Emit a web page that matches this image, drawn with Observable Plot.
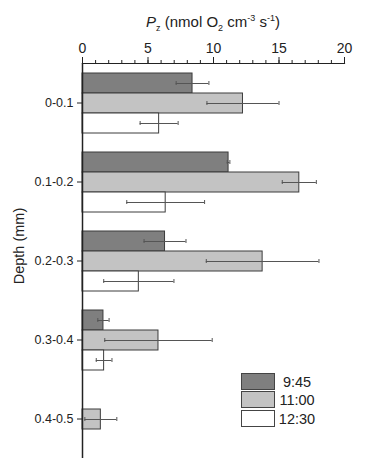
<!DOCTYPE html>
<html>
<head>
<meta charset="utf-8">
<script src="https://cdn.jsdelivr.net/npm/d3@7"></script>
<script src="https://cdn.jsdelivr.net/npm/@observablehq/plot@0.6"></script>
<style>
  body { margin: 0; background: #fff; font-family: "Liberation Sans", Arial, sans-serif; color: #222; }
  #wrap { position: relative; width: 366px; height: 465px; overflow: hidden; }
  #title { position: relative; height: 32px; }
  #title span { position: absolute; left: 213px; top: 9px; transform: translateX(-50%); font-size: 15px; line-height: 18px; white-space: nowrap; }
  #title sub, #title sup { font-size: 9px; }
  #ylabel { position: absolute; left: 19px; top: 246px; transform: translate(-50%, -50%) rotate(-90deg); font-size: 14.5px; white-space: nowrap; }
  .leg { position: absolute; left: 241px; width: 32px; height: 15px; border: 1px solid #444; }
  .legt { position: absolute; left: 297px; transform: translate(-50%, -50%); font-size: 14.5px; white-space: nowrap; }
</style>
</head>
<body>
<div id="wrap">
  <div id="title"><span><i>P</i><sub>z</sub> (nmol O<sub>2</sub> cm<sup>-3</sup> s<sup>-1</sup>)</span></div>
  <div id="chart"></div>
  <div id="ylabel">Depth (mm)</div>
  <div id="legend"></div>
</div>
<script>
const depths = ["0-0.1", "0.1-0.2", "0.2-0.3", "0.3-0.4", "0.4-0.5"];
const times = ["9:45", "11:00", "12:30"];
const colors = ["#7f7f7f", "#c3c3c3", "#ffffff"];
const xTicks = [0, 5, 10, 15, 20];

const v945  = [8.4, 11.15, 6.3, 1.6, null];
const e945  = [1.25, 0.1, 1.6, 0.43, null];
const v1100 = [12.25, 16.55, 13.75, 5.8, 1.4];
const e1100 = [2.75, 1.3, 4.3, 4.1, 1.22];
const v1230 = [5.85, 6.35, 4.3, 1.65, null];
const e1230 = [1.45, 2.97, 2.68, 0.6, null];

const values = [v945, v1100, v1230];
const errors = [e945, e1100, e1230];

const data = [];
depths.forEach((d, i) => {
  times.forEach((t, j) => {
    const v = values[j][i];
    if (v != null) data.push({depth: d, time: t, value: v, err: errors[j][i]});
  });
});

const chart = Plot.plot({
  width: 366,
  height: 433,
  marginTop: 30,
  marginBottom: 6,
  marginLeft: 82,
  marginRight: 22,
  style: {fontFamily: "'Liberation Sans', Arial, sans-serif", fontSize: "13px", color: "#222", background: "white"},
  x: {domain: [0, 20]},
  y: {domain: times, paddingInner: 0, paddingOuter: 0.39, axis: null},
  fy: {domain: depths, padding: 0},
  color: {domain: times, range: colors},
  marks: [
    Plot.barX(data, {x: "value", y: "time", fy: "depth", fill: "time", stroke: "#3c3c3c", strokeWidth: 1}),
    Plot.ruleY(data, {x1: d => d.value - d.err, x2: d => d.value + d.err, y: "time", fy: "depth", stroke: "#555", strokeWidth: 1}),
    Plot.tickX(data, {x: d => d.value - d.err, y: "time", fy: "depth", stroke: "#555", insetTop: 8, insetBottom: 8}),
    Plot.tickX(data, {x: d => d.value + d.err, y: "time", fy: "depth", stroke: "#555", insetTop: 8, insetBottom: 8}),
    Plot.ruleX([0], {stroke: "#222", strokeWidth: 1.5}),
    Plot.frame({anchor: "top", facetAnchor: "top", stroke: "#222", strokeWidth: 1.2}),
    Plot.axisX({anchor: "top", ticks: d3.range(0, 21), tickSize: 4, text: null, label: null, stroke: "#222"}),
    Plot.axisX({anchor: "top", ticks: xTicks, tickSize: 7, tickPadding: 4, label: null, fontSize: 14, stroke: "#222"}),
    Plot.axisFy({anchor: "left", tickSize: 5, tickPadding: 4, label: null, fontSize: 12.5, stroke: "#222"})
  ]
});
document.getElementById("chart").appendChild(chart);

const legend = document.getElementById("legend");
const tops = [373, 391, 410];
times.forEach((t, j) => {
  const box = document.createElement("div");
  box.className = "leg";
  box.style.top = tops[j] + "px";
  box.style.background = colors[j];
  legend.appendChild(box);
  const lab = document.createElement("div");
  lab.className = "legt";
  lab.style.top = (tops[j] + 8.5) + "px";
  lab.textContent = t;
  legend.appendChild(lab);
});
</script>
</body>
</html>
